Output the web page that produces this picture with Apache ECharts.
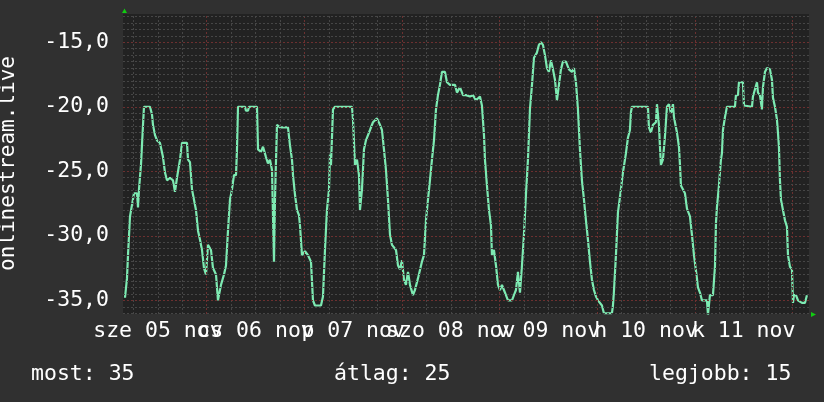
<!DOCTYPE html>
<html><head><meta charset="utf-8">
<script src="https://cdn.jsdelivr.net/npm/echarts@6/dist/echarts.min.js"></script>
<style>html,body{margin:0;padding:0;background:#303030;}#c{width:824px;height:402px;}</style>
</head><body><div id="c"></div>
<script>
// time in hours since 2025-11-05 00:00
const hours = [3.91,4.40,4.65,5.14,5.63,6.12,6.86,7.11,7.35,7.84,8.34,8.58,10.06,10.55,10.79,11.29,11.78,12.51,13.25,13.74,14.24,14.97,15.71,16.20,16.69,17.43,17.92,19.15,19.40,19.89,20.38,20.87,21.36,21.86,22.35,22.84,23.33,23.82,24.31,25.05,25.54,26.28,26.77,27.51,28.25,28.74,29.23,29.72,30.21,30.70,31.20,31.44,31.69,33.41,33.65,34.15,34.39,36.36,36.61,37.34,37.84,38.57,39.06,39.55,40.05,40.54,40.78,41.27,42.01,43.98,44.47,44.96,45.21,45.70,46.19,46.68,46.93,47.42,48.16,48.89,49.63,50.12,50.61,52.09,52.58,53.07,53.56,54.06,54.30,54.55,55.04,55.53,59.71,59.96,60.45,60.94,61.43,61.68,62.17,62.66,63.15,64.14,64.87,65.85,66.59,67.08,67.57,68.07,68.56,69.05,69.54,70.03,70.53,71.02,71.51,72.00,72.49,72.98,73.48,73.97,74.70,75.19,75.93,76.42,76.92,77.41,77.90,78.39,78.88,79.37,79.87,80.36,80.85,81.34,81.83,82.57,83.06,83.80,85.03,85.52,86.26,87.00,87.73,88.71,89.45,90.19,91.17,91.66,92.16,92.40,92.89,93.39,93.88,94.12,94.61,95.11,95.60,96.09,96.58,97.07,97.56,98.06,98.55,99.04,99.53,100.02,100.51,101.01,101.50,101.99,102.48,102.97,103.46,103.96,104.45,105.18,105.67,106.17,106.66,107.15,107.64,108.13,108.62,109.12,109.61,110.10,110.59,111.08,111.57,112.31,113.05,113.78,114.28,114.77,115.26,115.75,116.24,116.74,117.23,117.72,118.21,118.70,119.19,119.69,120.18,120.67,121.16,121.65,123.62,123.87,124.11,124.60,125.09,125.83,126.32,126.81,127.06,127.55,128.04,128.29,128.53,132.47,132.71,133.20,133.70,134.43,134.68,134.93,135.17,135.42,135.66,136.15,136.65,137.14,137.63,138.12,138.62,138.86,139.60,140.09,140.34,140.58,141.07,141.56,142.06,142.79,143.28,143.78,144.51,144.76,145.25,145.74,146.97,147.22,147.46,147.71,148.45,148.94,149.19,149.43,149.92,150.41,150.66,150.91,151.40,151.89,153.86,154.10,154.60,154.84,155.82,156.07,158.04,158.28,158.77,159.27,159.51,160.00,160.49,160.74,161.23,161.72,162.46,162.95,163.20,163.69,164.18,164.43,164.67,164.92,165.17,165.66,166.15,166.64,166.89,167.38,167.87,168.12,168.36,168.86,169.35,170.33,171.06,171.55];
const values = [-34.8,-33.3,-31.5,-28.5,-27.6,-26.7,-26.7,-27.8,-26.4,-24.5,-21.4,-20.0,-20.0,-20.6,-21.4,-22.2,-22.6,-22.8,-23.9,-25.1,-25.7,-25.5,-25.7,-26.6,-25.5,-24.1,-22.8,-22.8,-24.1,-24.3,-26.4,-27.2,-28.0,-29.6,-30.3,-31.1,-32.5,-33.0,-30.7,-31.1,-32.5,-33.0,-35.0,-33.8,-33.0,-32.3,-29.6,-27.2,-26.4,-25.3,-25.3,-23.3,-20.0,-20.0,-20.3,-20.3,-20.0,-20.0,-23.3,-23.5,-23.1,-23.9,-24.4,-24.1,-24.9,-32.0,-27.2,-21.4,-21.6,-21.6,-23.0,-24.1,-25.3,-26.8,-28.0,-28.4,-29.2,-31.5,-31.2,-31.5,-32.0,-35.0,-35.4,-35.4,-34.7,-31.1,-28.0,-26.4,-23.7,-24.5,-20.2,-20.0,-20.0,-21.0,-24.5,-24.1,-25.3,-28.0,-26.4,-23.3,-22.6,-21.8,-21.2,-20.9,-21.4,-21.8,-23.3,-24.9,-27.2,-29.9,-30.7,-30.7,-31.1,-32.3,-32.6,-31.9,-33.4,-33.8,-32.8,-33.8,-34.6,-34.2,-33.3,-33.4,-32.0,-31.5,-28.8,-27.2,-25.7,-24.1,-22.6,-20.2,-19.1,-18.3,-17.3,-17.3,-18.1,-18.3,-18.3,-18.9,-18.5,-19.1,-19.1,-19.2,-19.1,-19.5,-19.2,-19.9,-22.2,-24.1,-26.1,-28.0,-29.2,-31.5,-31.1,-32.3,-33.8,-34.2,-33.8,-34.2,-34.6,-35.0,-35.1,-35.0,-34.6,-34.2,-32.8,-34.4,-32.3,-29.9,-26.8,-24.1,-20.2,-18.3,-16.2,-15.8,-15.2,-15.0,-15.2,-16.0,-17.0,-17.3,-16.4,-17.1,-17.9,-19.5,-18.3,-17.1,-16.5,-16.5,-17.1,-17.3,-17.0,-18.1,-20.2,-23.3,-25.7,-27.2,-28.8,-30.3,-32.0,-33.4,-34.2,-34.7,-35.0,-35.0,-35.4,-36.0,-36.0,-35.4,-34.3,-31.5,-28.2,-26.4,-25.1,-24.1,-23.6,-22.4,-21.8,-20.4,-20.0,-20.0,-21.6,-22.0,-21.4,-21.2,-19.8,-19.8,-21.4,-23.1,-24.5,-24.1,-22.3,-20.0,-19.8,-20.5,-19.8,-20.8,-22.0,-23.1,-24.5,-26.1,-26.1,-26.7,-27.9,-28.5,-29.9,-31.5,-33.3,-34.0,-34.4,-35.0,-35.0,-36.1,-36.1,-34.6,-34.6,-32.4,-29.0,-27.8,-26.1,-24.1,-23.6,-21.8,-20.8,-20.0,-20.0,-19.1,-19.1,-18.1,-18.1,-19.9,-20.0,-19.2,-19.1,-18.1,-18.9,-19.1,-20.2,-18.5,-17.3,-17.0,-17.1,-17.9,-19.3,-20.0,-21.0,-22.0,-23.1,-25.7,-27.2,-27.2,-28.8,-29.3,-31.5,-32.4,-32.6,-35.2,-34.6,-34.6,-35.0,-35.2,-35.2,-34.6];
const xLabelHours = [12,36,60,84,108,132,156];
const xLabels = ['sze 05 nov','cs 06 nov','p 07 nov','szo 08 nov','v 09 nov','h 10 nov','k 11 nov'];
const yTicks = [-35,-30,-25,-20,-15];
const yTitle = 'onlinestream.live';
const legendTexts = ['most: 35','átlag: 25','legjobb: 15'];

const X_MIN = 3.42, X_MAX = 172.06, Y_MIN = -36.06, Y_MAX = -12.81;
const FONT = '"DejaVu Sans Mono", monospace';
const MINOR = '#464646', MAJOR = '#6c3030';

const gridMarks = [];
for (let h = 6; h < X_MAX; h += 6) {
  gridMarks.push({xAxis: h, lineStyle: {color: h % 24 === 0 ? MAJOR : MINOR, type: [2, 2], width: 1}});
}
for (let v = -36; v <= -13; v += 0.5) {
  gridMarks.push({yAxis: v, lineStyle: {color: v % 5 === 0 ? MAJOR : MINOR, type: [2, 2], width: 1}});
}

function xAxisFor(labelHours) {
  return {
    type: 'value', min: X_MIN, max: X_MAX, position: 'bottom', offset: 0,
    axisLine: {show: false}, axisTick: {show: false}, splitLine: {show: false},
    axisLabel: {
      customValues: labelHours, color: '#ffffff', fontFamily: FONT, fontSize: 21.5, margin: 6,
      formatter: v => xLabels[xLabelHours.indexOf(v)] || '', hideOverlap: false
    }
  };
}

const chart = echarts.init(document.getElementById('c'), null, {renderer: 'canvas'});
chart.setOption({
  animation: false,
  backgroundColor: '#303030',
  grid: {left: 123, top: 14, width: 686, height: 300, show: true, backgroundColor: '#222222', borderWidth: 0},
  xAxis: [
    xAxisFor(xLabelHours.filter((h, i) => i % 2 === 0)),
    xAxisFor(xLabelHours.filter((h, i) => i % 2 === 1))
  ],
  yAxis: {
    type: 'value', min: Y_MIN, max: Y_MAX,
    axisLine: {show: false}, axisTick: {show: false}, splitLine: {show: false},
    axisLabel: {
      customValues: yTicks, color: '#ffffff', fontFamily: FONT, fontSize: 21.5, margin: 14,
      formatter: v => v.toFixed(1).replace('.', ',')
    }
  },
  series: [
    {
      type: 'line', data: [], z: 1, silent: true, xAxisIndex: 0,
      markLine: {silent: true, symbol: ['none', 'none'], label: {show: false}, animation: false, data: gridMarks}
    },
    {
      type: 'line', z: 3, xAxisIndex: 0, data: hours.map((h, i) => [h, values[i]]),
      showSymbol: false, lineStyle: {color: '#7deab2', width: 2.2}, itemStyle: {color: '#7deab2'}
    }
  ],
  graphic: [
    {type: 'polygon', shape: {points: [[124.5, 8.5], [122, 13], [127, 13]]}, style: {fill: '#11cc11'}},
    {type: 'polygon', shape: {points: [[816, 314.5], [811, 312], [811, 317]]}, style: {fill: '#11cc11'}},
    {type: 'text', x: 9, y: 163.5, rotation: Math.PI / 2,
      style: {text: yTitle, fill: '#ffffff', font: '21px ' + FONT, align: 'center', verticalAlign: 'middle'}},
    {type: 'text', x: 31, y: 374, style: {text: legendTexts[0], fill: '#ffffff', font: '21.5px ' + FONT, verticalAlign: 'middle'}},
    {type: 'text', x: 334, y: 374, style: {text: legendTexts[1], fill: '#ffffff', font: '21.5px ' + FONT, verticalAlign: 'middle'}},
    {type: 'text', x: 649, y: 374, style: {text: legendTexts[2], fill: '#ffffff', font: '21.5px ' + FONT, verticalAlign: 'middle'}}
  ]
});
</script></body></html>
